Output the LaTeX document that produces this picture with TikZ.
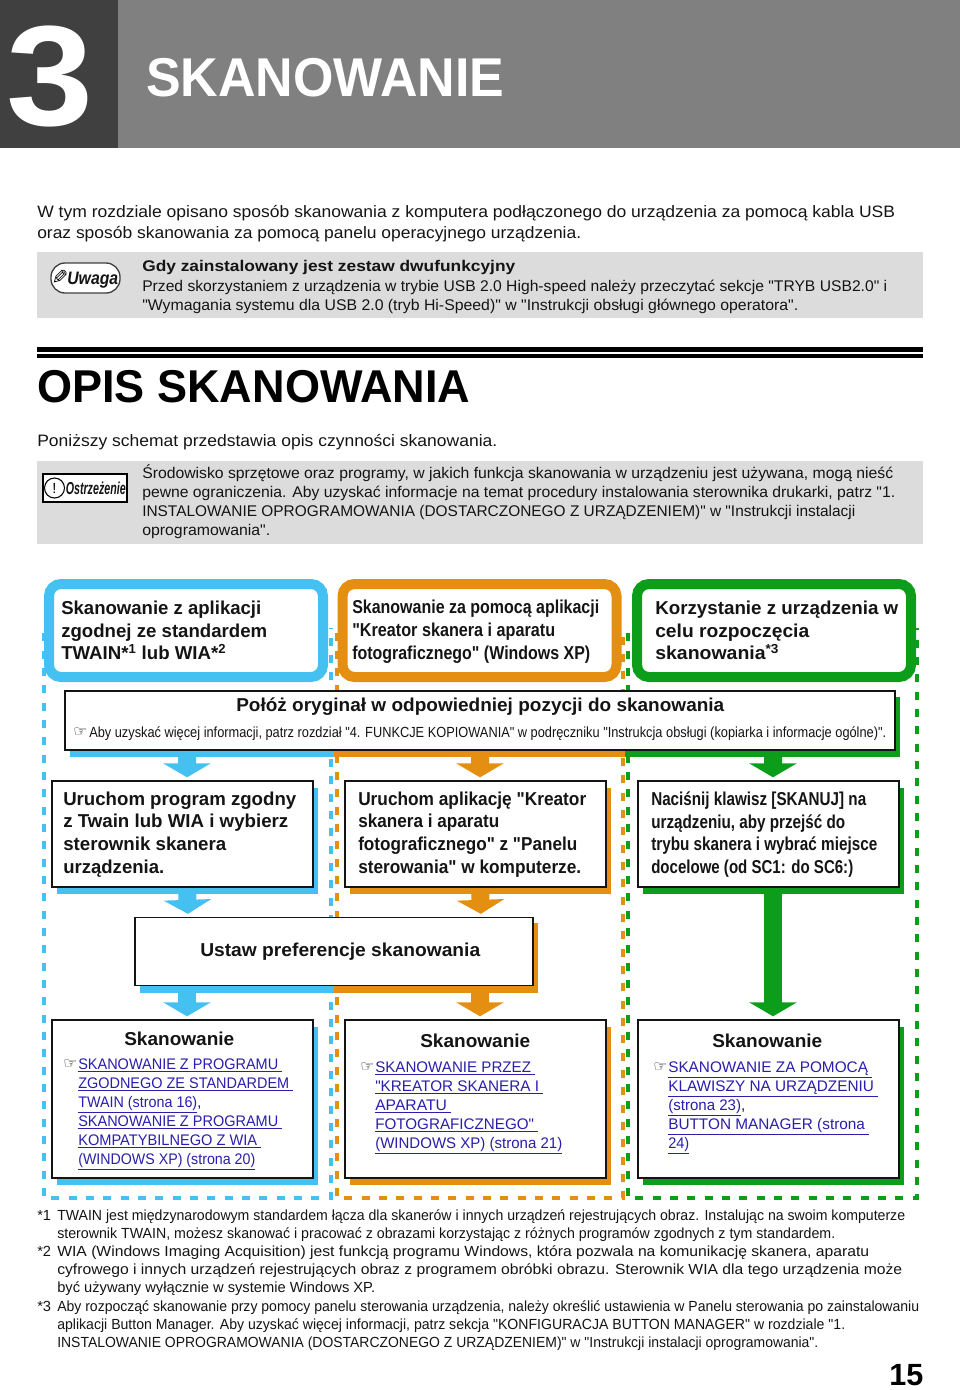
\documentclass[tikz,border=0pt]{standalone}
\usepackage{fontspec}
\newfontfamily\plainfont{Liberation Sans}
\newfontfamily\symfont{DejaVu Sans}
\usepackage{graphicx}
\usepackage{xcolor}
\usetikzlibrary{arrows.meta,calc,shadows}

\definecolor{headdark}{HTML}{404040}
\definecolor{headgrey}{HTML}{808080}
\definecolor{notegrey}{HTML}{DCDCDC}
\definecolor{colblue}{HTML}{45C1F1}
\definecolor{colorange}{HTML}{E48F12}
\definecolor{colgreen}{HTML}{0C9E1A}
\definecolor{linkblue}{HTML}{2A1EAA}
\definecolor{ink}{HTML}{141414}

\newlength\pxunit
\setlength\pxunit{0.75pt}
% line squeezed to a width given in pixels
\newcommand{\fitw}[2]{\resizebox{#1\pxunit}{\height}{#2}}
\newcommand{\linkline}[1]{\textcolor{linkblue}{\underline{#1}}}
\newcommand{\handmark}{{\symfont\bfseries\fontsize{11}{11}\selectfont\fitw{14}{☞}}}

\tikzset{
    textblock/.style={anchor=west, inner sep=0pt, align=left, text=ink, font=#1},
    textblock/.default={\plainfont\fontsize{12.4}{15.8}\selectfont},
    notetext/.style={textblock={\plainfont\fontsize{11.6}{14.3}\selectfont}},
    boldtext/.style={textblock={\plainfont\bfseries\fontsize{14}{17.1}\selectfont}},
    linktext/.style={textblock={\plainfont\fontsize{11.5}{14.25}\selectfont}},
    foottext/.style={textblock={\plainfont\fontsize{11}{13.5}\selectfont}},
    headbox/.style={draw=#1, fill=white, line width=7.5pt, rounded corners=9pt,
        minimum width=205.5pt, minimum height=69.75pt},
    flowbox/.style={draw=ink, fill=white, line width=1.1pt,
        general shadow={fill=#1, shadow xshift=3.8pt, shadow yshift=-5pt}},
    runbox/.style={flowbox=#1, minimum width=195.75pt, minimum height=79.5pt},
    scanbox/.style={flowbox=#1, minimum width=195.75pt, minimum height=118.5pt},
    flowarrow/.style={draw=#1, line width=13.5pt, shorten <=4pt, shorten >=2.2pt,
        -{Triangle[length=10.5pt,width=35.25pt,fill=#1]}},
    dashcol/.style={draw=#1, line width=2.5pt, dash pattern=on 6pt off 7pt, dash phase=9pt}
}

\begin{document}
\begin{tikzpicture}[x=0.75pt, y=-0.75pt]
    \useasboundingbox (0,0) rectangle (960,1390);

    % Chapter header
    \fill[headgrey] (118,0) rectangle (960,148);
    \fill[headdark] (0,0) rectangle (118,148);
    \node[anchor=center, inner sep=0pt, text=white, font=\plainfont\bfseries\fontsize{107}{107}\selectfont] (chapnum) at (50,76) {\fitw{87}{3}};
    \node[anchor=west, inner sep=0pt, text=white, font=\plainfont\bfseries\fontsize{41}{41}\selectfont] (chaptitle) at (146,78) {\fitw{358}{SKANOWANIE}};

    % Intro
    \node[textblock] (intro) at (37,223.5) {\fitw{858}{W tym rozdziale opisano sposób skanowania z komputera podłączonego do urządzenia za pomocą kabla USB}\\
        \fitw{544}{oraz sposób skanowania za pomocą panelu operacyjnego urządzenia.}};

    % Note
    \fill[notegrey] (37,252) rectangle (923,318);
    \node[draw=headdark, fill=white, line width=1pt, rounded corners=10.5pt, minimum width=51.75pt, minimum height=22.5pt, inner sep=0pt] (notepill) at (85.5,278) {};
    \node[inner sep=0pt, font=\symfont\fontsize{15}{15}\selectfont] (notepencil) at (60,277) {\reflectbox{✎}};
    \node[textblock={\plainfont\bfseries\itshape\fontsize{13.5}{13.5}\selectfont}] (notelabel) at (67,280) {\fitw{51}{Uwaga}};
    \node[notetext] (notebody) at (142,287) {\fitw{373}{\bfseries Gdy zainstalowany jest zestaw dwufunkcyjny}\\
        \fitw{745}{Przed skorzystaniem z urządzenia w trybie USB 2.0 High-speed należy przeczytać sekcje "TRYB USB2.0" i}\\
        \fitw{656}{"Wymagania systemu dla USB 2.0 (tryb Hi-Speed)" w "Instrukcji obsługi głównego operatora".}};

    % Section title
    \fill[black] (37,347) rectangle (923,351.5);
    \fill[black] (37,353.5) rectangle (923,357.5);
    \node[anchor=west, inner sep=0pt, text=black, font=\plainfont\bfseries\fontsize{34.5}{34.5}\selectfont] (sectitle) at (37,387) {\fitw{433}{OPIS SKANOWANIA}};
    \node[textblock] (secintro) at (37,442) {\fitw{460}{Poniższy schemat przedstawia opis czynności skanowania.}};

    % Warning
    \fill[notegrey] (37,461) rectangle (923,544);
    \node[draw=black, fill=white, line width=1.7pt, minimum width=63pt, minimum height=21pt, inner sep=0pt] (warnbox) at (85,488) {};
    \node[draw=black, circle, line width=0.8pt, inner sep=0pt, minimum size=15pt, font=\plainfont\fontsize{11}{11}\selectfont] (warnsign) at (54.5,488) {!};
    \node[textblock={\plainfont\bfseries\itshape\fontsize{13}{13}\selectfont}] (warnlabel) at (65.5,488) {\fitw{60}{Ostrzeżenie}};
    \node[notetext] (warnbody) at (142,502) {\fitw{751}{Środowisko sprzętowe oraz programy, w jakich funkcja skanowania w urządzeniu jest używana, mogą nieść}\\
        \fitw{753}{pewne ograniczenia. Aby uzyskać informacje na temat procedury instalowania sterownika drukarki, patrz "1.}\\
        \fitw{713}{INSTALOWANIE OPROGRAMOWANIA (DOSTARCZONEGO Z URZĄDZENIEM)" w "Instrukcji instalacji}\\
        \fitw{128}{oprogramowania".}};

    % Dashed columns
    \foreach \col/\xa/\xb in {colblue/44/331, colorange/337/623, colgreen/628/917} {
        \draw[dashcol=\col] (\xa,628) -- (\xa,1198) -- (\xb,1198) -- (\xb,628);
    }

    % Top headings
    \node[headbox=colblue] (headblue) at (186,630.5) {};
    \node[headbox=colorange] (headorange) at (479.5,630.5) {};
    \node[headbox=colgreen] (headgreen) at (774,630.5) {};
    \node[boldtext] (headbluetext) at (61,630.5) {\fitw{200}{Skanowanie z aplikacji}\\
        \fitw{206}{zgodnej ze standardem}\\
        \fitw{165}{TWAIN*\textsuperscript{1} lub WIA*\textsuperscript{2}}};
    \node[boldtext] (headorangetext) at (352,631.5) {\fitw{247}{Skanowanie za pomocą aplikacji}\\
        \fitw{203}{"Kreator skanera i aparatu}\\
        \fitw{238}{fotograficznego" (Windows XP)}};
    \node[boldtext] (headgreentext) at (655,630.5) {\fitw{243}{Korzystanie z urządzenia w}\\
        \fitw{154}{celu rozpoczęcia}\\
        \fitw{124}{skanowania\textsuperscript{*3}}};

    % Place original
    \fill[colblue] (70,697) rectangle (334,757);
    \fill[colorange] (334,697) rectangle (625,757);
    \fill[colgreen] (625,697) rectangle (900,757);
    \node[draw=ink, fill=white, line width=1.1pt, minimum width=622.5pt, minimum height=44.25pt] (putbox) at (480,720.5) {};
    \node[boldtext] (puttitle) at (236,707) {\fitw{488}{Połóż oryginał w odpowiedniej pozycji do skanowania}};
    \node[textblock={\plainfont\fontsize{11}{11}\selectfont}] (puthand) at (73,732) {\handmark};
    \node[textblock={\plainfont\fontsize{11}{11}\selectfont}] (putnote) at (89,734) {\fitw{797}{Aby uzyskać więcej informacji, patrz rozdział "4. FUNKCJE KOPIOWANIA" w podręczniku "Instrukcja obsługi (kopiarka i informacje ogólne)".}};
    \coordinate (putblue) at (187,750);
    \coordinate (putorange) at (480,750);
    \coordinate (putgreen) at (773,750);

    % Start step
    \node[runbox=colblue] (runblue) at (182.5,834) {};
    \node[runbox=colorange] (runorange) at (475.5,834) {};
    \node[runbox=colgreen] (rungreen) at (768.5,834) {};
    \node[boldtext] (runbluetext) at (63,834.5) {\fitw{233}{Uruchom program zgodny}\\
        \fitw{225}{z Twain lub WIA i wybierz}\\
        \fitw{163}{sterownik skanera}\\
        \fitw{101}{urządzenia.}};
    \node[boldtext] (runorangetext) at (358,834.5) {\fitw{228}{Uruchom aplikację "Kreator}\\
        \fitw{141}{skanera i aparatu}\\
        \fitw{219}{fotograficznego" z "Panelu}\\
        \fitw{223}{sterowania" w komputerze.}};
    \node[boldtext] (rungreentext) at (651,834.5) {\fitw{215}{Naciśnij klawisz [SKANUJ] na}\\
        \fitw{194}{urządzeniu, aby przejść do}\\
        \fitw{226}{trybu skanera i wybrać miejsce}\\
        \fitw{202}{docelowe (od SC1: do SC6:)}};

    % Preferences step
    \fill[colblue] (140,923) rectangle (334,993);
    \fill[colorange] (334,923) rectangle (538,993);
    \node[draw=ink, fill=white, line width=1.1pt, minimum width=298.5pt, minimum height=51pt] (prefbox) at (334,951.5) {};
    \node[boldtext] (preftext) at (200,952) {\fitw{280}{Ustaw preferencje skanowania}};
    \coordinate (prefblue) at (187,986);
    \coordinate (preforange) at (480,986);

    % Scan step
    \node[scanbox=colblue] (scanblue) at (182.5,1099) {};
    \node[scanbox=colorange] (scanorange) at (475.5,1099) {};
    \node[scanbox=colgreen] (scangreen) at (768.5,1099) {};
    \node[boldtext] (scanbluetitle) at (124,1039) {\fitw{110}{Skanowanie}};
    \node[boldtext] (scanorangetitle) at (420,1041) {\fitw{110}{Skanowanie}};
    \node[boldtext] (scangreentitle) at (712,1041) {\fitw{110}{Skanowanie}};
    \node[textblock] (handblue) at (63,1064) {\handmark};
    \node[textblock] (handorange) at (360,1067) {\handmark};
    \node[textblock] (handgreen) at (653,1067) {\handmark};
    \node[linktext] (linksblue) at (78,1114.5) {\fitw{204}{\linkline{SKANOWANIE Z PROGRAMU\ }}\\
        \fitw{215}{\linkline{ZGODNEGO ZE STANDARDEM\ }}\\
        \fitw{123}{\linkline{TWAIN (strona 16)},}\\
        \fitw{204}{\linkline{SKANOWANIE Z PROGRAMU\ }}\\
        \fitw{183}{\linkline{KOMPATYBILNEGO Z WIA\ }}\\
        \fitw{177}{\linkline{(WINDOWS XP) (strona 20)}}};
    \node[linktext] (linksorange) at (375,1108) {\fitw{160}{\linkline{SKANOWANIE PRZEZ\ }}\\
        \fitw{168}{\linkline{"KREATOR SKANERA I\ }}\\
        \fitw{76}{\linkline{APARATU\ }}\\
        \fitw{163}{\linkline{FOTOGRAFICZNEGO"\ }}\\
        \fitw{187}{\linkline{(WINDOWS XP) (strona 21)}}};
    \node[linktext] (linksgreen) at (668,1108) {\fitw{204}{\linkline{SKANOWANIE ZA POMOCĄ\ }}\\
        \fitw{210}{\linkline{KLAWISZY NA URZĄDZENIU\ }}\\
        \fitw{77}{\linkline{(strona 23)},}\\
        \fitw{201}{\linkline{BUTTON MANAGER (strona\ }}\\
        \fitw{21}{\linkline{24)}}};

    % Arrows
    \draw[flowarrow=colblue] (putblue) -- ([xshift=3.4pt]runblue.north);
    \draw[flowarrow=colorange] (putorange) -- ([xshift=3.4pt]runorange.north);
    \draw[flowarrow=colgreen] (putgreen) -- ([xshift=3.4pt]rungreen.north);
    \draw[flowarrow=colblue] ([xshift=3.4pt]runblue.south) -- ([xshift=-109.5pt]prefbox.north);
    \draw[flowarrow=colorange] ([xshift=3.4pt]runorange.south) -- ([xshift=110.25pt]prefbox.north);
    \draw[flowarrow=colblue] (prefblue) -- ([xshift=3.4pt]scanblue.north);
    \draw[flowarrow=colorange] (preforange) -- ([xshift=3.4pt]scanorange.north);
    \draw[flowarrow=colgreen] ([xshift=3.4pt]rungreen.south) -- ([xshift=3.4pt]scangreen.north);

    % Footnotes
    \node[foottext] (markone) at (37,1215) {*1};
    \node[foottext] (noteone) at (57,1226) {\fitw{848}{TWAIN jest międzynarodowym standardem łącza dla skanerów i innych urządzeń rejestrujących obraz. Instalując na swoim komputerze}\\
        \fitw{778}{sterownik TWAIN, możesz skanować i pracować z obrazami korzystając z różnych programów zgodnych z tym standardem.}};
    \node[foottext] (marktwo) at (37,1251) {*2};
    \node[foottext] (notetwo) at (57,1271) {\fitw{812}{WIA (Windows Imaging Acquisition) jest funkcją programu Windows, która pozwala na komunikację skanera, aparatu}\\
        \fitw{845}{cyfrowego i innych urządzeń rejestrujących obraz z programem obróbki obrazu. Sterownik WIA dla tego urządzenia może}\\
        \fitw{318}{być używany wyłącznie w systemie Windows XP.}};
    \node[foottext] (markthree) at (37,1306) {*3};
    \node[foottext] (notethree) at (57,1326) {\fitw{862}{Aby rozpocząć skanowanie przy pomocy panelu sterowania urządzenia, należy określić ustawienia w Panelu sterowania po zainstalowaniu}\\
        \fitw{788}{aplikacji Button Manager. Aby uzyskać więcej informacji, patrz sekcja "KONFIGURACJA BUTTON MANAGER" w rozdziale "1.}\\
        \fitw{761}{INSTALOWANIE OPROGRAMOWANIA (DOSTARCZONEGO Z URZĄDZENIEM)" w "Instrukcji instalacji oprogramowania".}};

    % Page number
    \node[anchor=west, inner sep=0pt, text=black, font=\plainfont\bfseries\fontsize{23}{23}\selectfont] (pagenum) at (889,1375) {\fitw{34}{15}};
\end{tikzpicture}
\end{document}
